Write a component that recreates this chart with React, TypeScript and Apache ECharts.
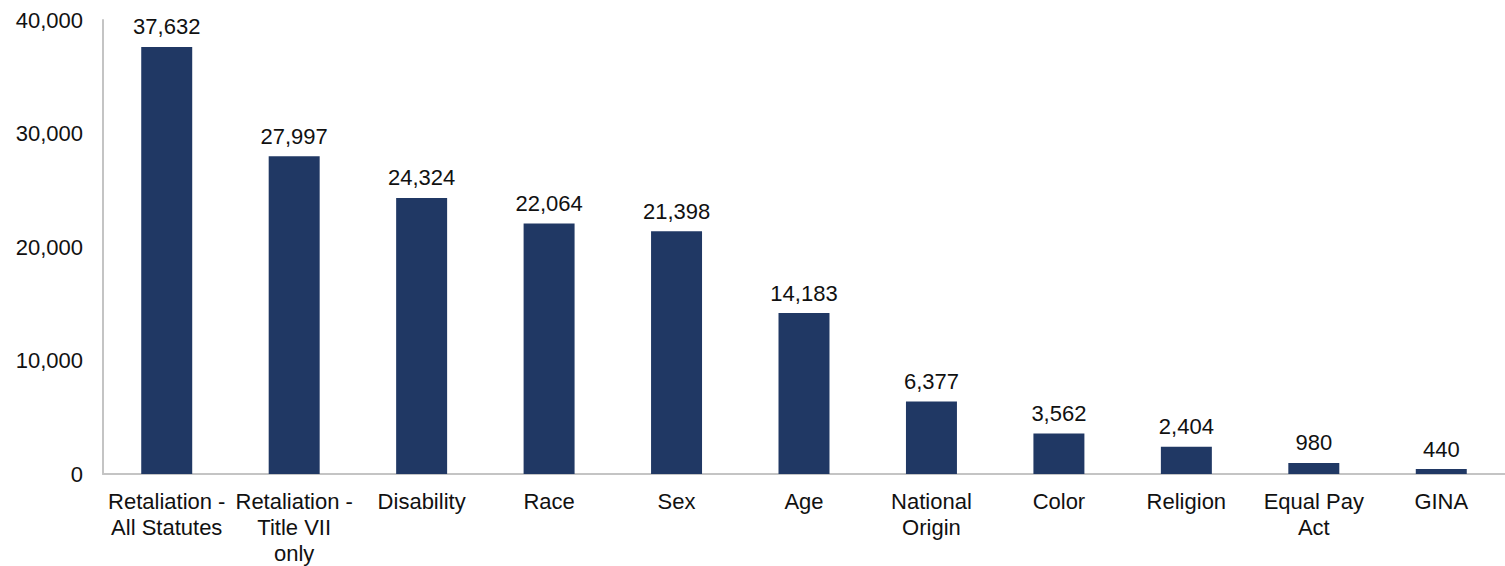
import React, { useEffect, useRef } from "react";
import * as echarts from "echarts";

// Charge categories and counts
const categories = [
  "Retaliation -\nAll Statutes",
  "Retaliation -\nTitle VII\nonly",
  "Disability",
  "Race",
  "Sex",
  "Age",
  "National\nOrigin",
  "Color",
  "Religion",
  "Equal Pay\nAct",
  "GINA",
];
const charges = [37632, 27997, 24324, 22064, 21398, 14183, 6377, 3562, 2404, 980, 440];

const FONT = "Liberation Sans, Arial, sans-serif";

export default function App() {
  const ref = useRef<HTMLDivElement>(null);

  useEffect(() => {
    document.body.style.margin = "0";
    const chart = echarts.init(ref.current!, null, { renderer: "svg" });
    chart.setOption({
      animation: false,
      backgroundColor: "#ffffff",
      grid: { left: 103, right: -6, top: 20, bottom: 92 },
      xAxis: {
        type: "category",
        data: categories,
        axisLine: { show: true, lineStyle: { color: "#c4c4c4", width: 2 } },
        axisTick: { show: false },
        axisLabel: {
          interval: 0,
          margin: 14,
          color: "#111",
          fontFamily: FONT,
          fontSize: 22,
          lineHeight: 26,
        },
      },
      yAxis: {
        type: "value",
        min: 0,
        max: 40000,
        interval: 10000,
        splitLine: { show: false },
        axisLine: { show: true, lineStyle: { color: "#c4c4c4", width: 2 } },
        axisTick: { show: false },
        axisLabel: {
          margin: 20,
          color: "#111",
          fontFamily: FONT,
          fontSize: 22,
          formatter: (v: number) => v.toLocaleString("en-US"),
        },
      },
      series: [
        {
          type: "bar",
          data: charges,
          barWidth: "40%",
          itemStyle: { color: "#203864" },
          label: {
            show: true,
            position: "top",
            distance: 9,
            color: "#111",
            fontFamily: FONT,
            fontSize: 22,
            formatter: (p: any) => Number(p.value).toLocaleString("en-US"),
          },
        },
      ],
    });
    return () => chart.dispose();
  }, []);

  return <div ref={ref} style={{ width: 1505, height: 566 }} />;
}
